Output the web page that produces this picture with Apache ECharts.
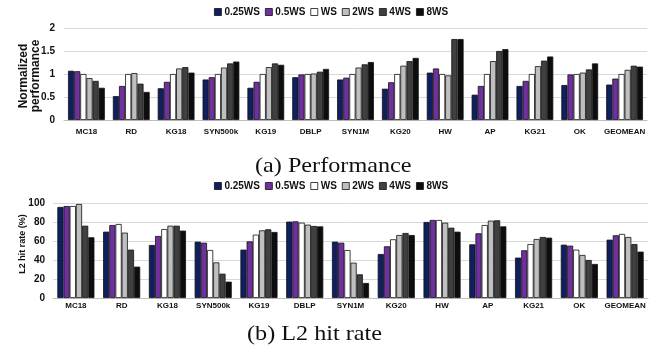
<!DOCTYPE html>
<html>
<head>
<meta charset="utf-8">
<script src="https://cdn.jsdelivr.net/npm/echarts@6/dist/echarts.min.js"></script>
<style>
html,body{margin:0;padding:0;background:#fff;}
#c{width:660px;height:357px;}
</style>
</head>
<body>
<div id="c"></div>
<script>
var categories = ['MC18','RD','KG18','SYN500k','KG19','DBLP','SYN1M','KG20','HW','AP','KG21','OK','GEOMEAN'];
var seriesNames = ['0.25WS','0.5WS','WS','2WS','4WS','8WS'];
var perfTicks = ['0','0.5','1','1.5','2'];
var hitTicks = ['0','20','40','60','80','100'];

var perf025 = [1.07,0.52,0.69,0.88,0.70,0.93,0.88,0.68,1.03,0.55,0.74,0.76,0.77];
var perf05  = [1.06,0.74,0.83,0.93,0.83,0.99,0.92,0.82,1.12,0.74,0.85,0.99,0.90];
var perfWS  = [1.00,1.00,1.00,1.00,1.00,1.00,1.00,1.00,1.00,1.00,1.00,1.00,1.00];
var perf2   = [0.91,1.02,1.12,1.14,1.15,1.01,1.14,1.18,0.97,1.28,1.17,1.03,1.09];
var perf4   = [0.85,0.79,1.15,1.23,1.23,1.05,1.21,1.28,1.76,1.50,1.29,1.10,1.18];
var perf8   = [0.70,0.61,1.03,1.27,1.20,1.11,1.26,1.35,1.76,1.54,1.38,1.23,1.16];

var hit025 = [95.8,69.8,55.8,59.3,50.9,80.4,59.3,46.3,80.0,56.5,42.5,56.1,61.4];
var hit05  = [96.8,76.8,65.3,58.2,59.6,80.7,58.2,54.4,82.1,68.1,50.2,55.1,66.0];
var hitWS  = [96.8,77.9,72.6,50.5,66.7,79.3,50.5,61.8,82.1,76.8,56.8,50.9,67.4];
var hit2   = [98.9,68.8,76.1,37.5,71.2,77.2,37.2,66.3,79.3,81.4,62.1,45.3,64.2];
var hit4   = [76.1,50.9,76.1,25.6,72.3,75.8,24.9,68.4,74.0,81.8,64.2,40.0,56.8];
var hit8   = [63.9,33.0,70.9,17.2,69.5,75.4,15.8,66.3,69.8,75.4,63.5,35.8,48.8];

var perfData = [perf025,perf05,perfWS,perf2,perf4,perf8];
var hitData = [hit025,hit05,hitWS,hit2,hit4,hit8];
var colors = ['#0f1f5f','#7030a0','#ffffff','#bfbfbf','#404040','#0d0d0d'];

var FONT = 'Liberation Sans, Arial, sans-serif';
var SERIF = 'Liberation Serif, Times New Roman, serif';

var series = [];
seriesNames.forEach(function(n,i){
  series.push({name:n,type:'bar',xAxisIndex:0,yAxisIndex:0,data:perfData[i],
    barGap:'0%',barCategoryGap:'18%',
    itemStyle:{color:colors[i],borderColor:'#111',borderWidth:0.8},animation:false});
});
seriesNames.forEach(function(n,i){
  series.push({name:n,type:'bar',xAxisIndex:1,yAxisIndex:1,data:hitData[i],
    barGap:'0%',barCategoryGap:'19%',
    itemStyle:{color:colors[i],borderColor:'#111',borderWidth:0.8},animation:false});
});

function legend(top){
  return {data:seriesNames,left:214,top:top,icon:'rect',itemWidth:7,itemHeight:7,itemGap:5,padding:0,
    textStyle:{fontFamily:FONT,fontWeight:'bold',fontSize:10,color:'#111',padding:[0,0,0,-2]},
    selectedMode:false,
    itemStyle:{borderColor:'#111',borderWidth:0.8}};
}

var option = {
  animation:false,
  color:colors,
  legend:[legend(7),legend(181)],
  grid:[
    {left:64,right:13,top:28,height:92},
    {left:53,right:12,top:203,height:95}
  ],
  xAxis:[
    {type:'category',gridIndex:0,data:categories,
      axisLine:{lineStyle:{color:'#bfbfbf'}},axisTick:{show:false},
      axisLabel:{interval:0,margin:8,fontFamily:FONT,fontWeight:'bold',fontSize:8,color:'#111'}},
    {type:'category',gridIndex:1,data:categories,
      axisLine:{lineStyle:{color:'#bfbfbf'}},axisTick:{show:false},
      axisLabel:{interval:0,margin:4,fontFamily:FONT,fontWeight:'bold',fontSize:8,color:'#111'}}
  ],
  yAxis:[
    {type:'value',gridIndex:0,min:0,max:2,interval:0.5,
      axisLine:{show:false},axisTick:{show:false},
      splitLine:{lineStyle:{color:'#d9d9d9'}},
      axisLabel:{margin:9,fontFamily:FONT,fontWeight:'bold',fontSize:10,color:'#111',
        formatter:function(v){return perfTicks[Math.round(v/0.5)];}}},
    {type:'value',gridIndex:1,min:0,max:100,interval:20,
      axisLine:{show:false},axisTick:{show:false},
      splitLine:{lineStyle:{color:'#d9d9d9'}},
      axisLabel:{margin:8,fontFamily:FONT,fontWeight:'bold',fontSize:10,color:'#111',
        formatter:function(v){return hitTicks[Math.round(v/20)];}}}
  ],
  graphic:[
    {type:'text',x:30,y:76,rotation:Math.PI/2,
      style:{text:'Normalized\nperformance',font:'bold 12px '+FONT,fill:'#111',align:'center',verticalAlign:'middle',lineHeight:12}},
    {type:'text',x:22.5,y:244,rotation:Math.PI/2,
      style:{text:'L2 hit rate (%)',font:'bold 9px '+FONT,fill:'#111',align:'center',verticalAlign:'middle'}},
    {type:'text',top:155,left:255,style:{text:'(a) Performance',font:'22px '+SERIF,fill:'#111'},scaleX:1.1},
    {type:'text',top:323,left:247,style:{text:'(b) L2 hit rate',font:'22px '+SERIF,fill:'#111'},scaleX:1.1}
  ],
  series:series
};
var chart = echarts.init(document.getElementById('c'),null,{renderer:'canvas'});
chart.setOption(option);
</script>
</body>
</html>
